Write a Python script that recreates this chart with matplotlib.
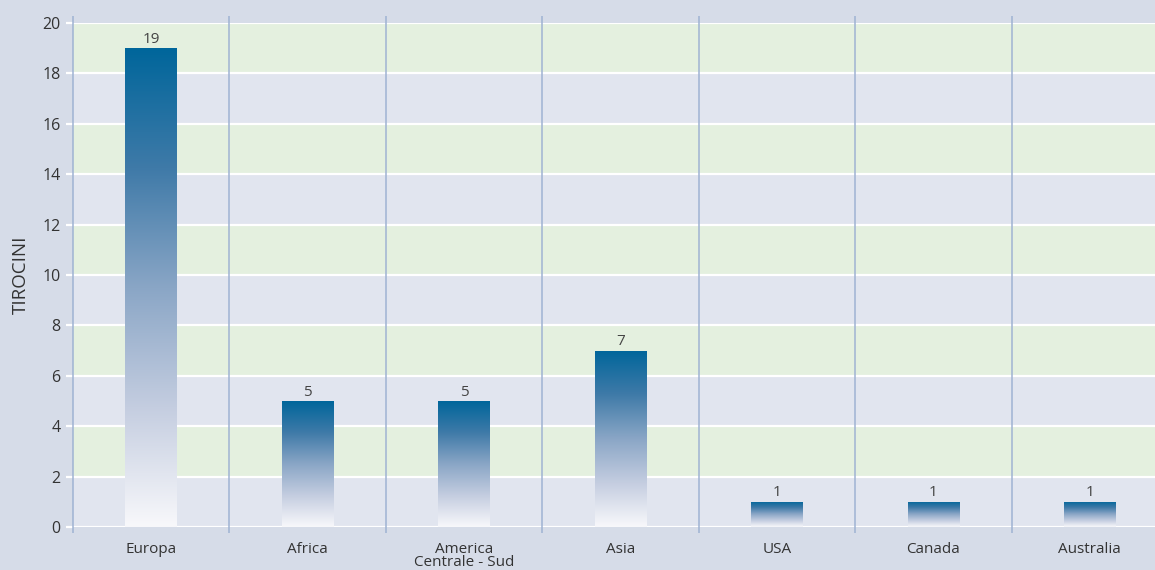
import numpy as np
import matplotlib.pyplot as plt
from matplotlib.colors import LinearSegmentedColormap

# dati
categorie = ['Europa', 'Africa', 'America\nCentrale - Sud', 'Asia', 'USA', 'Canada', 'Australia']
tirocini = [19, 5, 5, 7, 1, 1, 1]
yticks = [0, 2, 4, 6, 8, 10, 12, 14, 16, 18, 20]

BG = '#d6dce8'
BAND_A = '#e1e5ef'
BAND_B = '#e4f0df'
SEP = '#9fb3d3'

plt.rcParams['font.family'] = ['Open Sans', 'DejaVu Sans']

fig = plt.figure(figsize=(11.55, 5.7), dpi=100, facecolor=BG)
ax = fig.add_axes([73/1155, 43/570, 1095/1155, 504/570])
ax.set_facecolor(BG)

# bande alternate
for i in range(0, 20, 2):
    ax.axhspan(i, i + 2, color=BAND_B if (i // 2) % 2 == 1 else BAND_A, lw=0, zorder=0)
for y in yticks:
    ax.axhline(y, color='white', lw=1.6, zorder=1)

x = np.arange(len(categorie))

# separatori verticali
ax.vlines(np.arange(len(categorie)) - 0.5, -0.25, 20.28, color=SEP, lw=1.1,
          clip_on=False, zorder=2)

# barre con sfumatura
cmap = LinearSegmentedColormap.from_list('blu', ['#f8f8fb', '#c4cde0', '#8aa6c6', '#3f7aa8', '#00669b'])
grad = np.linspace(0, 1, 256).reshape(-1, 1)
bars = ax.bar(x, tirocini, width=0.33, facecolor='none', edgecolor='none', zorder=3)
for b in bars:
    x0 = b.get_x()
    im = ax.imshow(grad, extent=[x0, x0 + b.get_width(), 0, b.get_height()],
                   origin='lower', cmap=cmap, aspect='auto', zorder=3, interpolation='bicubic')
    im.set_clip_path(b)
    ax.annotate(str(int(b.get_height())), (b.get_x() + b.get_width() / 2, b.get_height()),
                xytext=(0, 1), textcoords='offset points', ha='center', va='bottom',
                fontsize=11, color='#444444')

ax.set_xlim(-0.5, 6.5)
ax.set_ylim(0, 20)
ax.set_xticks(x)
ax.set_xticklabels(categorie, fontsize=11, color='#333333', linespacing=0.8)
ax.set_yticks(yticks)
ax.tick_params(axis='y', length=5, width=1.6, color='white', labelsize=11.5,
               labelcolor='#333333', pad=4)
ax.tick_params(axis='x', length=0, pad=11)
for s in ax.spines.values():
    s.set_visible(False)
ax.set_ylabel('TIROCINI', fontsize=13.5, color='#333333', labelpad=9)

fig.savefig('out.png', dpi=100, facecolor=BG)
